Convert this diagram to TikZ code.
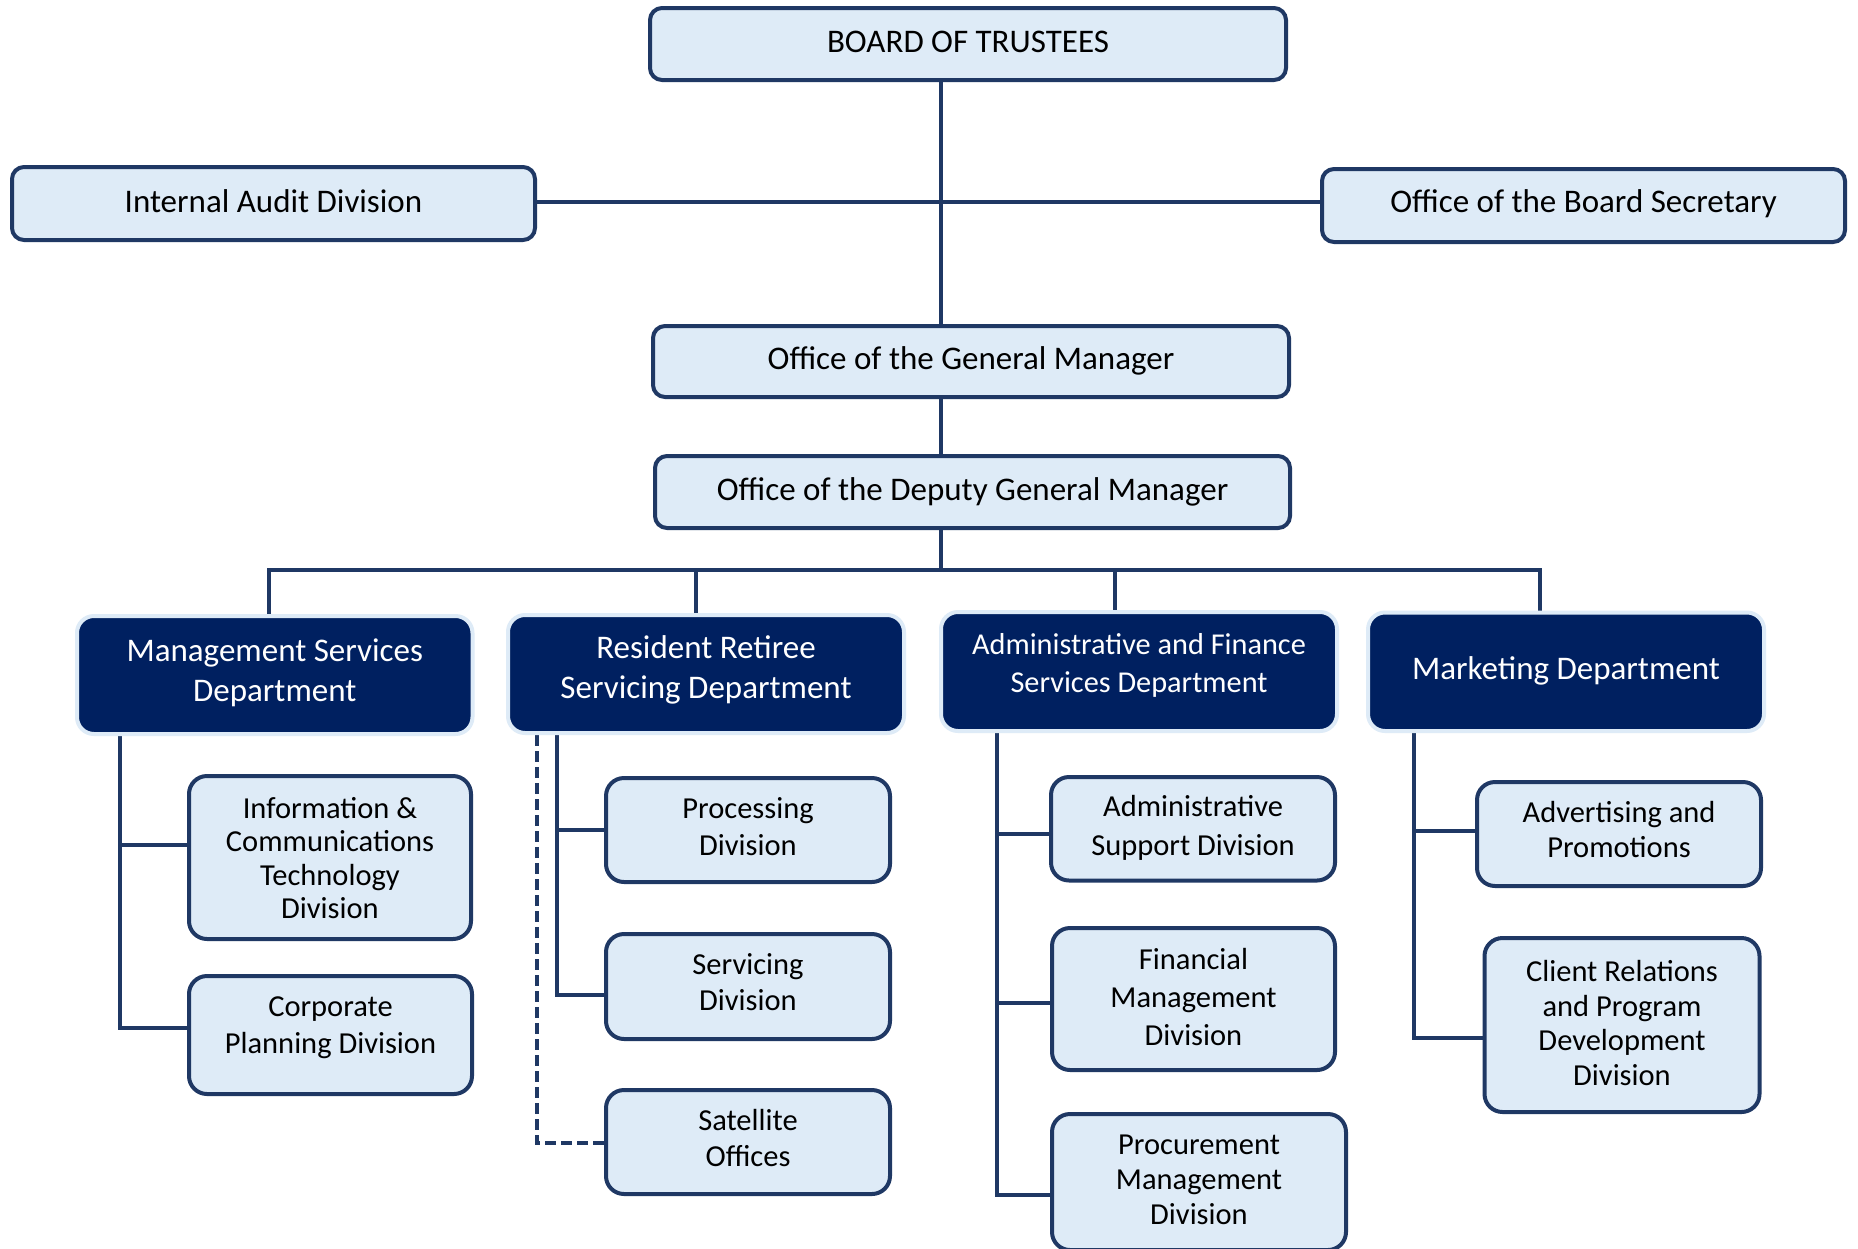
\documentclass[tikz,border=0pt]{standalone}
\usepackage{fontspec}
\setmainfont{Carlito}
\usetikzlibrary{backgrounds}
\definecolor{boxfill}{RGB}{222,235,247}
\definecolor{boxline}{RGB}{31,56,100}
\definecolor{darkfill}{RGB}{0,32,96}
\definecolor{halo}{RGB}{222,235,247}
\tikzset{
  topbox/.style={draw=boxline, fill=boxfill, line width=4pt, rounded corners=12pt, inner sep=0pt},
  deptbox/.style={draw=halo, fill=darkfill, line width=4pt, rounded corners=17pt, inner sep=0pt},
  childbox/.style={draw=boxline, fill=boxfill, line width=4pt, rounded corners=18pt, inner sep=0pt},
  toptxt/.style={inner sep=0pt, align=center, text=black, font=\fontsize{33}{40}\selectfont},
  depttxt/.style={inner sep=0pt, align=center, text=white, font=\fontsize{33}{40.3}\selectfont},
  afstxt/.style={inner sep=0pt, align=center, text=white, font=\fontsize{30.3}{38}\selectfont},
  childtxt/.style={inner sep=0pt, align=center, text=black, font=\fontsize{30.5}{#1}\selectfont},
  childtxt/.default=36.7,
  conn/.style={draw=boxline, line width=4pt},
  dashconn/.style={draw=boxline, line width=4pt, dash pattern=on 11pt off 5pt},
}
\def\bxadj{-4pt}
\newcommand\orgbox[9]{%
  \node[#2, minimum width={#5pt-#3pt+(\bxadj)}, minimum height={#6pt-#4pt+(\bxadj)}] (#1) at ({(#3+#5)/2},{(#4+#6)/2}) {};
  \node[#7] (#1-t) at ({(#3+#5)/2},#8) {#9};
}
\begin{document}
\begin{tikzpicture}[x=1pt,y=-1pt]
\useasboundingbox (0,0) rectangle (1858,1248);
% top level
\orgbox{bot}{topbox}{648}{6}{1288}{82}{toptxt}{42}{BOARD OF TRUSTEES}
\orgbox{iad}{topbox}{10}{165}{537}{242}{toptxt}{201}{Internal Audit Division}
\orgbox{obs}{topbox}{1320}{167}{1847}{244}{toptxt}{203.5}{Office of the Board Secretary}
\orgbox{ogm}{topbox}{651}{324}{1291}{399}{toptxt}{361}{Office of the General Manager}
\orgbox{dgm}{topbox}{653}{454}{1292}{530}{toptxt}{491.5}{Office of the Deputy General Manager}
% departments
\def\bxadj{4pt}
\orgbox{msd}{deptbox}{79}{618}{470.5}{732}{depttxt}{672.5}{Management Services\\Department}
\orgbox{rrs}{deptbox}{510}{617}{902}{731}{depttxt}{670}{Resident Retiree\\Servicing Department}
\orgbox{afs}{deptbox}{943}{614}{1335}{729}{afstxt}{665}{Administrative and Finance\\Services Department}
\orgbox{mkt}{deptbox}{1370}{614.5}{1762}{729}{depttxt}{671}{Marketing Department}
% divisions
\def\bxadj{-4pt}
\orgbox{ict}{childbox}{187}{774}{473}{941}{childtxt=33.2}{858}{Information \&\\Communications\\Technology\\Division}
\orgbox{cpd}{childbox}{187}{974}{474}{1096}{childtxt}{1027.5}{Corporate\\Planning Division}
\orgbox{prc}{childbox}{604}{776}{892}{884}{childtxt}{826.5}{Processing\\Division}
\orgbox{svc}{childbox}{604}{932}{892}{1041}{childtxt}{982}{Servicing\\Division}
\orgbox{sat}{childbox}{604}{1088}{892}{1196}{childtxt}{1138}{Satellite\\Offices}
\orgbox{asd}{childbox}{1049}{775}{1337}{882.5}{childtxt=39}{827.5}{Administrative\\Support Division}
\orgbox{fmd}{childbox}{1050}{926}{1337}{1072}{childtxt=38}{997.5}{Financial\\Management\\Division}
\orgbox{pmd}{childbox}{1050}{1112}{1348}{1252}{childtxt=35}{1180}{Procurement\\Management\\Division}
\orgbox{adv}{childbox}{1475}{780}{1763}{888}{childtxt=35.5}{829.5}{Advertising and\\Promotions}
\orgbox{crp}{childbox}{1482.5}{936}{1761.5}{1114}{childtxt=34.4}{1023}{Client Relations\\and Program\\Development\\Division}
\begin{pgfonlayer}{background}
\fill[white] (0,0) rectangle (1858,1248);
\coordinate (trk) at (941,0);
\coordinate (hbar) at (941,202);
\coordinate (bus) at (941,570);
\coordinate (d1) at (269,570);
\coordinate (d2) at (696,570);
\coordinate (d3) at (1115,570);
\coordinate (d4) at (1540,570);
\draw[conn] (bot.south -| trk) -- (ogm.north -| trk);
\draw[conn] (iad.east |- hbar) -- (obs.west |- hbar);
\draw[conn] (ogm.south -| trk) -- (dgm.north -| trk);
\draw[conn] (dgm.south -| trk) -- (bus);
\draw[conn] (msd.north -| d1) -- (d1) -- (d4) -- (mkt.north -| d4);
\draw[conn] (d2) -- (rrs.north -| d2);
\draw[conn] (d3) -- (afs.north -| d3);
% management services
\coordinate (mv1) at (119.5,845);
\coordinate (mv2) at (119.5,1028);
\draw[conn] (msd.south -| mv1) -- (mv2) -- (cpd.west |- mv2);
\draw[conn] (mv1) -- (ict.west |- mv1);
% resident retiree
\coordinate (rv1) at (557,830);
\coordinate (rv2) at (557,995);
\coordinate (rd) at (537,1143);
\draw[conn] (rrs.south -| rv1) -- (rv2) -- (svc.west |- rv2);
\draw[conn] (rv1) -- (prc.west |- rv1);
\draw[dashconn] (rrs.south -| rd) -- (rd) -- (sat.west |- rd);
% administrative and finance
\coordinate (av1) at (997,834);
\coordinate (av2) at (997,1003);
\coordinate (av3) at (997,1195);
\draw[conn] (afs.south -| av1) -- (av3) -- (pmd.west |- av3);
\draw[conn] (av1) -- (asd.west |- av1);
\draw[conn] (av2) -- (fmd.west |- av2);
% marketing
\coordinate (kv1) at (1414,831);
\coordinate (kv2) at (1414,1038);
\draw[conn] (mkt.south -| kv1) -- (kv2) -- (crp.west |- kv2);
\draw[conn] (kv1) -- (adv.west |- kv1);
\end{pgfonlayer}
\end{tikzpicture}
\end{document}
